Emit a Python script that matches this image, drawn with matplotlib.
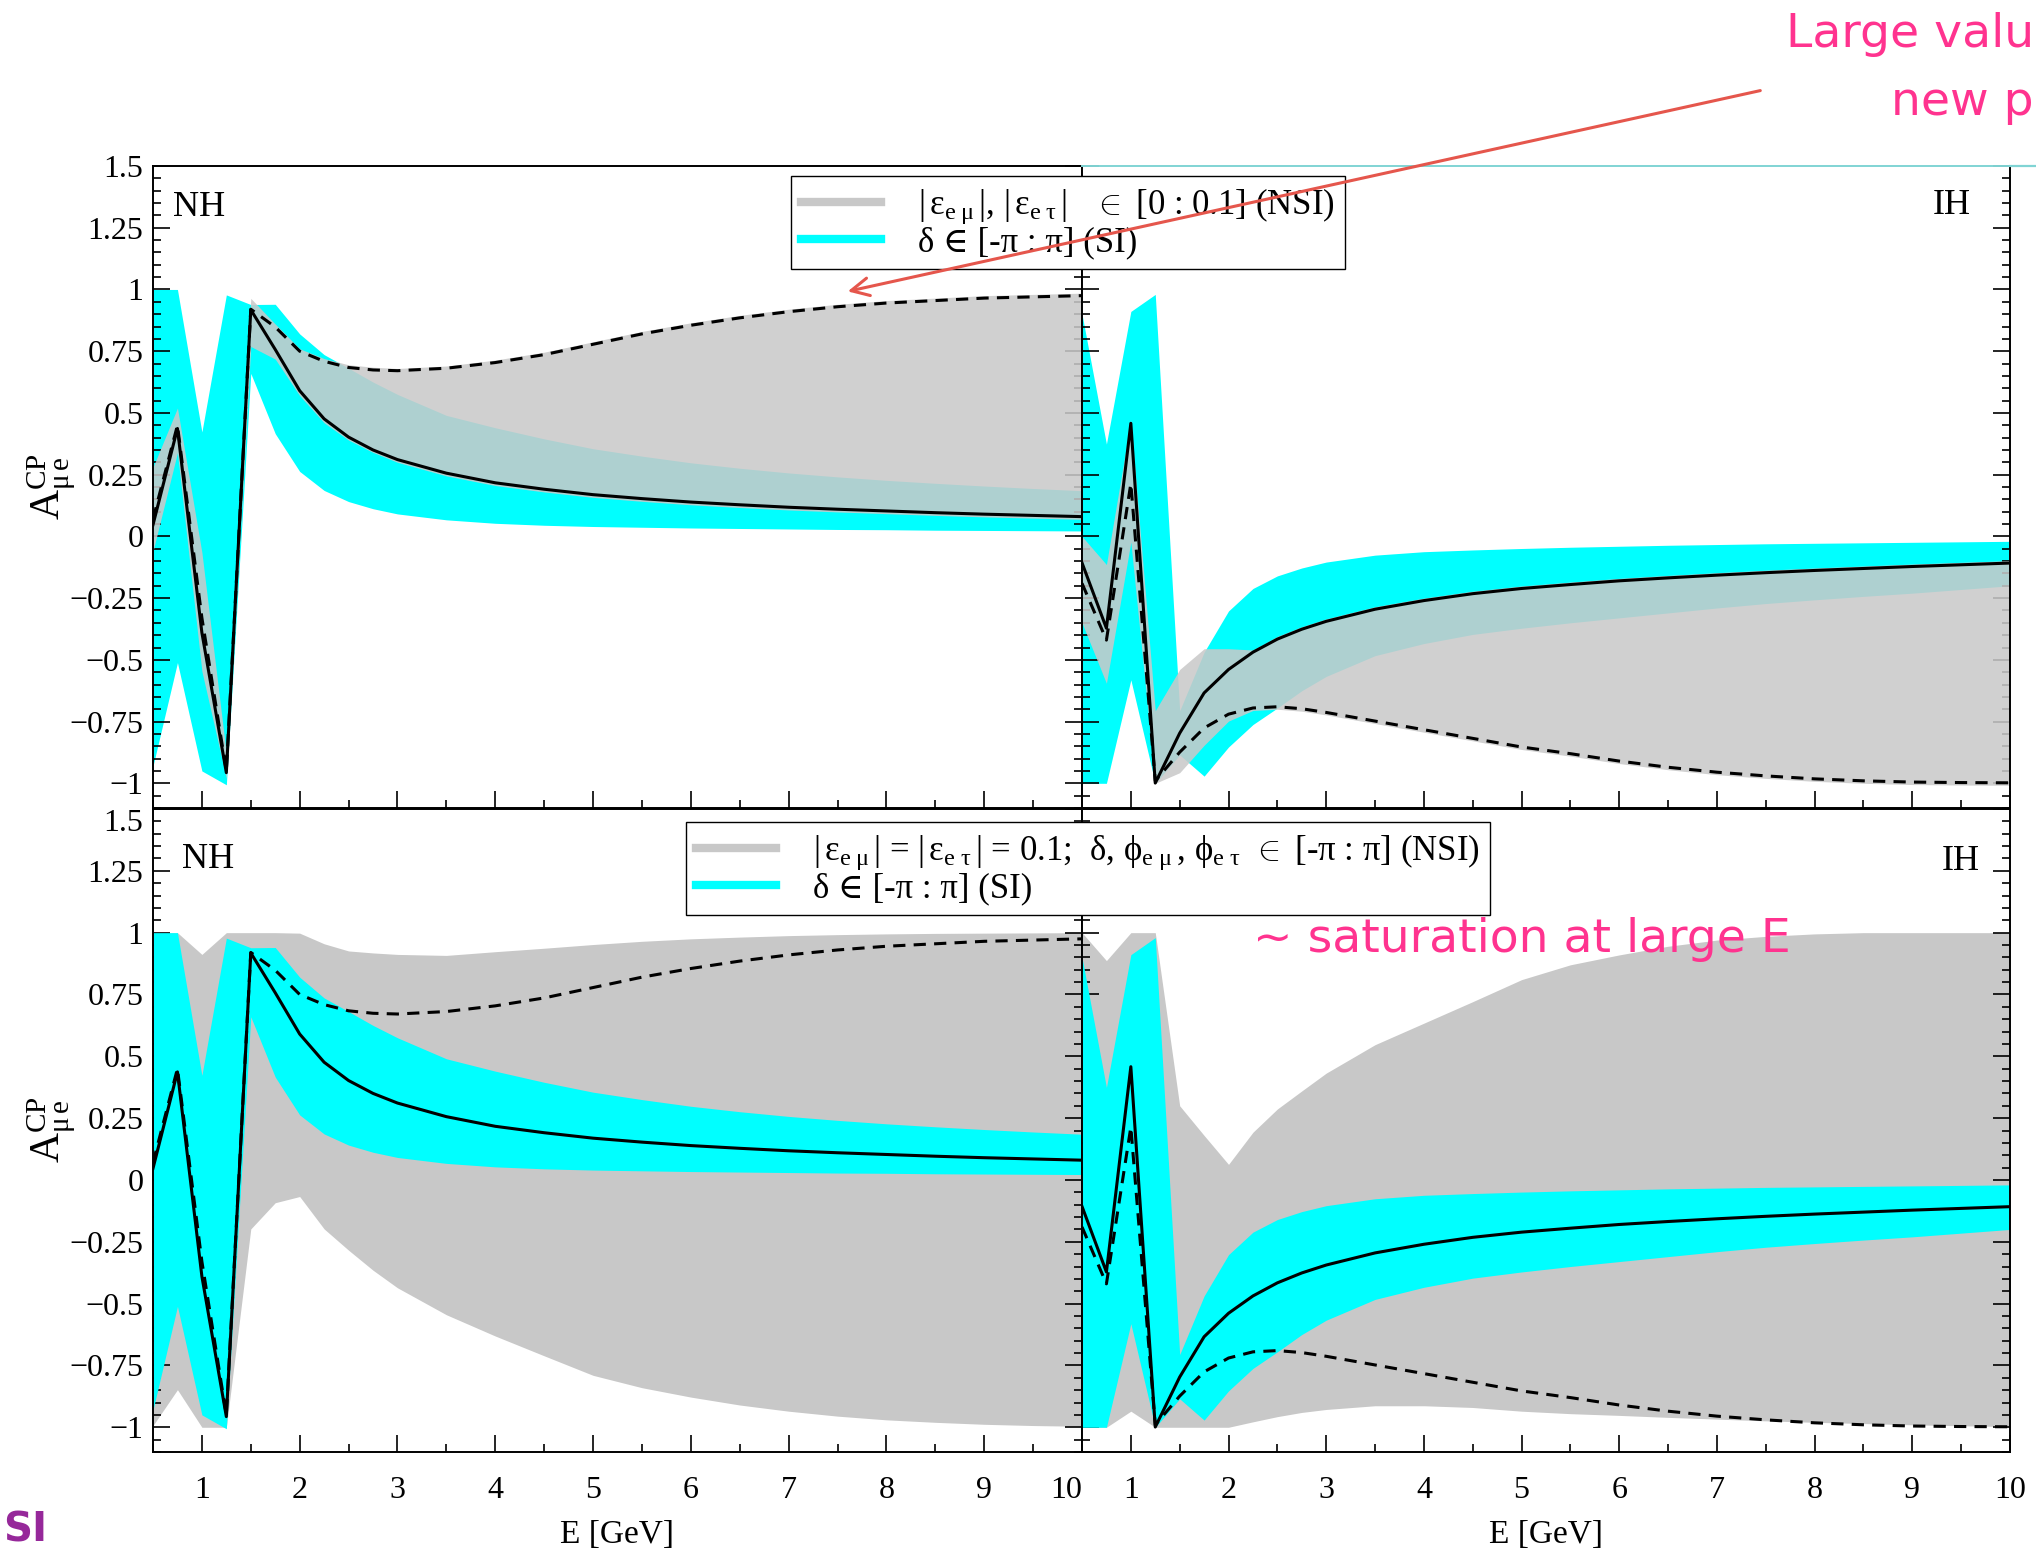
import matplotlib.pyplot as plt
from matplotlib.lines import Line2D
from matplotlib.patches import FancyArrowPatch
from matplotlib.ticker import FixedLocator, MultipleLocator

plt.rcParams['font.family'] = ['Liberation Serif', 'DejaVu Serif']
plt.rcParams['mathtext.fontset'] = 'custom'
plt.rcParams['mathtext.rm'] = 'Liberation Serif'
plt.rcParams['mathtext.it'] = 'Liberation Serif:italic'
plt.rcParams['mathtext.bf'] = 'Liberation Serif:bold'

# energy grid [GeV]
energy = [0.5, 0.75, 1.0, 1.25, 1.5, 1.75, 2.0, 2.25, 2.5, 2.75, 3.0, 3.5, 4.0,
          4.5, 5.0, 5.5, 6.0, 6.5, 7.0, 7.5, 8.0, 8.5, 9.0, 9.5, 10.0]

# NH: SI curve (solid), NSI curve (dashed)
nh_si = [0.047, 0.437, -0.39, -0.957, 0.918, 0.757, 0.590, 0.476, 0.402, 0.350, 0.311, 0.256, 0.217,
         0.191, 0.169, 0.153, 0.139, 0.128, 0.118, 0.110, 0.103, 0.096, 0.090, 0.085, 0.080]
nh_nsi = [0.07, 0.45, -0.33, -0.95, 0.92, 0.848, 0.75, 0.709, 0.684, 0.674, 0.671, 0.681, 0.704,
          0.736, 0.778, 0.82, 0.855, 0.885, 0.91, 0.93, 0.945, 0.955, 0.965, 0.97, 0.975]
# NH: SI band, delta in [-pi, pi]
nh_cyan_hi = [1.0, 1.0, 0.423, 0.978, 0.939, 0.94, 0.82, 0.736, 0.681, 0.625, 0.575, 0.49, 0.44,
              0.395, 0.355, 0.325, 0.298, 0.276, 0.257, 0.241, 0.227, 0.215, 0.204, 0.194, 0.185]
nh_cyan_lo = [-0.93, -0.511, -0.95, -1.006, 0.66, 0.416, 0.263, 0.186, 0.141, 0.112, 0.091, 0.067, 0.053,
              0.045, 0.04, 0.037, 0.034, 0.032, 0.03, 0.028, 0.027, 0.025, 0.024, 0.023, 0.022]
# NH: NSI band, |eps| in [0, 0.1]
nh_gray_hi_a = [0.28, 0.52, -0.065, -0.88, 0.964, 0.86, 0.76, 0.72, 0.695, 0.685, 0.68, 0.69, 0.714,
                0.746, 0.788, 0.83, 0.865, 0.895, 0.92, 0.94, 0.955, 0.965, 0.975, 0.98, 0.985]
nh_gray_lo_a = [-0.06, 0.339, -0.546, -0.98, 0.769, 0.718, 0.57, 0.46, 0.39, 0.34, 0.30, 0.245, 0.206,
                0.18, 0.158, 0.142, 0.128, 0.117, 0.107, 0.099, 0.092, 0.085, 0.079, 0.074, 0.069]
# NH: NSI band, |eps| = 0.1, all phases
nh_gray_hi_b = [1.0, 1.0, 0.912, 1.0, 1.0, 1.0, 0.998, 0.955, 0.926, 0.918, 0.912, 0.908, 0.923,
                0.937, 0.952, 0.965, 0.975, 0.982, 0.988, 0.992, 0.995, 0.997, 0.998, 0.999, 1.0]
nh_gray_lo_b = [-0.993, -0.848, -1.0, -1.0, -0.198, -0.092, -0.067, -0.198, -0.284, -0.365, -0.436, -0.545, -0.631,
                -0.711, -0.79, -0.84, -0.878, -0.91, -0.935, -0.955, -0.97, -0.98, -0.988, -0.993, -0.996]

# IH
ih_si = [-0.107, -0.372, 0.458, -0.999, -0.797, -0.634, -0.539, -0.469, -0.416, -0.376, -0.344, -0.295, -0.26,
         -0.232, -0.211, -0.195, -0.18, -0.168, -0.157, -0.147, -0.138, -0.13, -0.122, -0.115, -0.108]
ih_nsi = [-0.19, -0.42, 0.214, -0.99, -0.874, -0.776, -0.72, -0.695, -0.69, -0.698, -0.713, -0.748, -0.783,
          -0.818, -0.853, -0.88, -0.91, -0.935, -0.955, -0.97, -0.982, -0.99, -0.995, -0.997, -0.998]
ih_cyan_hi = [0.9, 0.374, 0.911, 0.98, -0.706, -0.469, -0.302, -0.211, -0.16, -0.128, -0.104, -0.076, -0.062,
              -0.055, -0.049, -0.044, -0.04, -0.036, -0.033, -0.03, -0.028, -0.026, -0.024, -0.022, -0.02]
ih_cyan_lo = [-1.0, -1.0, -0.581, -1.0, -0.885, -0.971, -0.853, -0.762, -0.695, -0.625, -0.567, -0.483, -0.434,
              -0.397, -0.372, -0.35, -0.33, -0.31, -0.29, -0.272, -0.257, -0.243, -0.23, -0.215, -0.2]
ih_gray_hi_a = [0.0, -0.114, 0.47, -0.706, -0.539, -0.455, -0.455, -0.46, -0.405, -0.366, -0.334, -0.285, -0.25,
                -0.222, -0.201, -0.185, -0.17, -0.158, -0.147, -0.137, -0.128, -0.12, -0.112, -0.105, -0.098]
ih_gray_lo_a = [-0.35, -0.595, -0.023, -1.0, -0.957, -0.846, -0.748, -0.705, -0.70, -0.708, -0.723, -0.758, -0.793,
                -0.828, -0.863, -0.89, -0.92, -0.945, -0.965, -0.98, -0.992, -1.0, -1.005, -1.007, -1.008]
ih_gray_hi_b = [1.0, 0.887, 1.0, 1.0, 0.3, 0.18, 0.063, 0.193, 0.287, 0.36, 0.432, 0.547, 0.634,
                0.721, 0.81, 0.87, 0.91, 0.945, 0.97, 0.985, 0.995, 1.0, 1.0, 1.0, 1.0]
ih_gray_lo_b = [-1.0, -1.0, -0.935, -1.0, -1.0, -1.0, -1.0, -0.978, -0.957, -0.94, -0.928, -0.913, -0.913,
                -0.92, -0.935, -0.945, -0.952, -0.96, -0.967, -0.974, -0.98, -0.985, -0.99, -0.994, -0.997]

xticks = [1, 2, 3, 4, 5, 6, 7, 8, 9, 10]
xtick_labels = ['1', '2', '3', '4', '5', '6', '7', '8', '9', '10']
yticks = [-1, -0.75, -0.5, -0.25, 0, 0.25, 0.5, 0.75, 1, 1.25, 1.5]
ytick_labels = ['\u22121', '\u22120.75', '\u22120.5', '\u22120.25', '0', '0.25', '0.5', '0.75', '1', '1.25', '1.5']

EMU = r'$_{\mathrm{e}\ \mathrm{\mu}}\,$'
ETAU = r'$_{\mathrm{e}\ \mathrm{\tau}}\,$'
legend_top = ['|$\\,$\u03b5' + EMU + '|, |$\\,$\u03b5' + ETAU + '|   $\\in$ [0 : 0.1] (NSI)',
              '\u03b4 \u2208 [-\u03c0 : \u03c0] (SI)']
legend_bot = ['|$\\,$\u03b5' + EMU + '| = |$\\,$\u03b5' + ETAU + '| = 0.1;  \u03b4, \u03d5' + EMU
              + ', \u03d5' + ETAU + ' $\\in$ [-\u03c0 : \u03c0] (NSI)',
              '\u03b4 \u2208 [-\u03c0 : \u03c0] (SI)']

GRAY = '#c8c8c8'
CYAN = '#00ffff'
PINK = '#ff338f'

W, H = 2036, 1555
fig = plt.figure(figsize=(W / 100, H / 100), dpi=100)


def box(x0, y0, x1, y1):
    return [x0 / W, 1 - y1 / H, (x1 - x0) / W, (y1 - y0) / H]


ax_tl = fig.add_axes(box(153, 166, 1082, 808))
ax_tr = fig.add_axes(box(1082, 166, 2010, 808))
ax_bl = fig.add_axes(box(153, 809, 1082, 1452))
ax_br = fig.add_axes(box(1082, 809, 2010, 1452))


def draw_panel(ax, si, nsi, c_lo, c_hi, g_lo, g_hi, gray_on_top):
    if gray_on_top:
        ax.fill_between(energy, c_lo, c_hi, color=CYAN, lw=0, zorder=1)
        ax.fill_between(energy, g_lo, g_hi, color='#c9c9c9', alpha=0.87, lw=0, zorder=2)
    else:
        ax.fill_between(energy, g_lo, g_hi, color=GRAY, lw=0, zorder=1)
        ax.fill_between(energy, c_lo, c_hi, color=CYAN, lw=0, zorder=2)
    ax.plot(energy, si, color='black', lw=2.2, zorder=3)
    ax.plot(energy, nsi, color='black', lw=2.2, ls=(0, (4, 2.7)), zorder=3)


draw_panel(ax_tl, nh_si, nh_nsi, nh_cyan_lo, nh_cyan_hi, nh_gray_lo_a, nh_gray_hi_a, True)
draw_panel(ax_tr, ih_si, ih_nsi, ih_cyan_lo, ih_cyan_hi, ih_gray_lo_a, ih_gray_hi_a, True)
draw_panel(ax_bl, nh_si, nh_nsi, nh_cyan_lo, nh_cyan_hi, nh_gray_lo_b, nh_gray_hi_b, False)
draw_panel(ax_br, ih_si, ih_nsi, ih_cyan_lo, ih_cyan_hi, ih_gray_lo_b, ih_gray_hi_b, False)

for ax in [ax_tl, ax_tr, ax_bl, ax_br]:
    ax.set_xlim(0.5, 10)
    ax.set_ylim(-1.1, 1.5)
    ax.xaxis.set_major_locator(FixedLocator(xticks))
    ax.xaxis.set_minor_locator(MultipleLocator(0.5))
    ax.yaxis.set_major_locator(FixedLocator(yticks))
    ax.yaxis.set_minor_locator(MultipleLocator(0.05))
    ax.tick_params(which='both', direction='in', left=True, right=True, top=False, bottom=True,
                   width=1.2, labelsize=23)
    ax.tick_params(which='major', length=12)
    ax.tick_params(which='minor', length=5.5)
    ax.tick_params(axis='x', pad=17)
    ax.tick_params(axis='y', pad=7)
    for s in ax.spines.values():
        s.set_linewidth(1.4)

for ax in [ax_tl, ax_bl]:
    ax.set_yticks(yticks, ytick_labels)
for ax in [ax_tr, ax_br]:
    ax.set_yticklabels([])
for ax in [ax_tl, ax_tr]:
    ax.set_xticklabels([])
for ax in [ax_bl, ax_br]:
    ax.set_xticks(xticks, xtick_labels)

ax_bl.xaxis.get_major_ticks()[-1].label1.set_horizontalalignment('right')
ax_bl.yaxis.get_major_ticks()[-1].label1.set_verticalalignment('top')

ax_tr.spines['top'].set_color('#80d4d4')

# panel labels
fig.text(173 / W, 1 - 208 / H, 'NH', size=26, ha='left', va='center')
fig.text(1971 / W, 1 - 205 / H, 'IH', size=26, ha='right', va='center')
fig.text(182 / W, 1 - 860 / H, 'NH', size=26, ha='left', va='center')
fig.text(1980 / W, 1 - 862 / H, 'IH', size=26, ha='right', va='center')

ylab = r'$\mathrm{A}^{\mathrm{CP}}_{\mathrm{\mu\,e}}$'
fig.text(52 / W, 1 - 487 / H, ylab, size=30, rotation=90, ha='center', va='center')
fig.text(52 / W, 1 - 1130 / H, ylab, size=30, rotation=90, ha='center', va='center')
fig.text(617 / W, 1 - 1535 / H, 'E [GeV]', size=24, ha='center', va='center')
fig.text(1546 / W, 1 - 1535 / H, 'E [GeV]', size=24, ha='center', va='center')

handles = [Line2D([], [], color=GRAY, lw=6), Line2D([], [], color=CYAN, lw=6)]
leg_style = dict(loc='upper left', bbox_transform=fig.transFigure, borderaxespad=0, fancybox=False,
                 framealpha=1, edgecolor='black', fontsize=25, handlelength=2.3, handletextpad=1.05,
                 labelspacing=0.0, borderpad=0.3)
leg1 = fig.legend(handles, legend_top, bbox_to_anchor=(791 / W, 1 - 176 / H), **leg_style)
leg1.get_frame().set_linewidth(1.0)
leg2 = fig.legend(handles, legend_bot, bbox_to_anchor=(686 / W, 1 - 822 / H), **leg_style)
leg2.get_frame().set_linewidth(1.0)

# slide annotations
fig.text(2034 / W, 1 - 47 / H, 'Large valu', color=PINK, size=34, family='DejaVu Sans',
         ha='right', va='baseline')
fig.text(2034 / W, 1 - 115 / H, 'new p', color=PINK, size=34, family='DejaVu Sans',
         ha='right', va='baseline')
fig.text(1253 / W, 1 - 952 / H, '~ saturation at large E', color=PINK, size=34, family='DejaVu Sans',
         ha='left', va='baseline', zorder=10)
fig.text(3 / W, 1 - 1510 / H, 'SI', color='#96289a', size=29, weight='bold', family='DejaVu Sans',
         ha='left', va='top')

arrow = FancyArrowPatch((1763 / W, 1 - 90 / H), (845 / W, 1 - 292 / H), transform=fig.transFigure,
                        arrowstyle='->,head_length=0.8,head_width=0.4', mutation_scale=16,
                        color='#e5564c', lw=2.2, zorder=10)
fig.add_artist(arrow)
fig.add_artist(Line2D([2010 / W, 1], [1 - 166 / H, 1 - 166 / H], transform=fig.transFigure,
                      color='#80d4d4', lw=1.6, zorder=10))

fig.savefig('out.png', dpi=100)
